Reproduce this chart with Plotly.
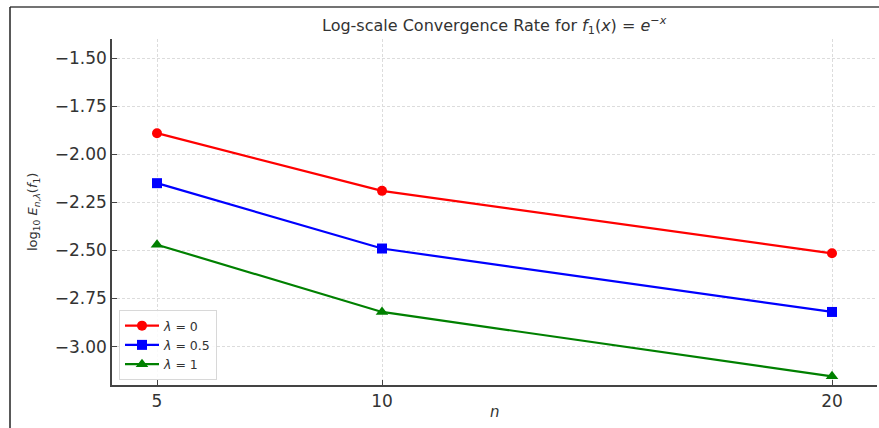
import plotly.graph_objects as go

n_vals = [5, 10, 20]
err_lam0 = [-1.89, -2.19, -2.515]
err_lam05 = [-2.15, -2.49, -2.82]
err_lam1 = [-2.47, -2.82, -3.155]
series_names = ["<i>λ</i> = 0", "<i>λ</i> = 0.5", "<i>λ</i> = 1"]
y_ticks = [-1.50, -1.75, -2.00, -2.25, -2.50, -2.75, -3.00]

W, H = 879, 428
L, R, T, B = 112, 2, 39, 43
pw, ph = W - L - R, H - T - B

def px_x(p):
    return (p - L) / pw

def px_y(p):
    return (H - B - p) / ph

fig = go.Figure()
styles = [("red", "circle"), ("blue", "square"), ("green", "triangle-up")]
for ys, name, (c, sym) in zip([err_lam0, err_lam05, err_lam1], series_names, styles):
    fig.add_trace(go.Scatter(
        x=n_vals, y=ys, name=name, mode="lines+markers",
        line=dict(color=c, width=2.2),
        marker=dict(color=c, symbol=sym, size=10 if sym != "triangle-up" else 11),
    ))

font = "DejaVu Sans, Verdana, sans-serif"
fig.update_layout(
    width=W, height=H,
    margin=dict(l=L, r=R, t=T, b=B),
    paper_bgcolor="white", plot_bgcolor="white",
    font=dict(family=font, color="#333333"),
    showlegend=True,
    legend=dict(x=px_x(119), y=px_y(380), xanchor="left", yanchor="bottom",
                bgcolor="rgba(255,255,255,0.85)", bordercolor="#d8d8d8", borderwidth=1,
                font=dict(size=12.5, family=font, color="#333333"),
                itemwidth=34, tracegroupgap=0),
    xaxis=dict(range=[4, 21], tickvals=n_vals, ticktext=[str(v) for v in n_vals],
               showgrid=True, gridcolor="#dcdcdc", griddash="3px,2px", gridwidth=1,
               showline=True, linecolor="#444444", linewidth=1.5, mirror=False,
               ticks="inside", ticklen=5, tickcolor="#444444",
               tickfont=dict(size=17, family=font, color="#333333"),
               zeroline=False),
    yaxis=dict(range=[-3.2, -1.4], tickvals=y_ticks, tickformat=".2f",
               showgrid=True, gridcolor="#dcdcdc", griddash="3px,2px", gridwidth=1,
               showline=True, linecolor="#444444", linewidth=1.5, mirror=False,
               ticks="inside", ticklen=5, tickcolor="#444444",
               tickfont=dict(size=17, family=font, color="#333333"),
               zeroline=False),
)

fig.add_annotation(text="Log-scale Convergence Rate for <i>f</i><sub>1</sub>(<i>x</i>) = <i>e</i><sup>−<i>x</i></sup>",
                   xref="paper", yref="paper", x=0.5, y=px_y(26), xanchor="center", yanchor="middle",
                   showarrow=False, font=dict(size=16, family=font, color="#333333"))
fig.add_annotation(text="log<sub>10</sub> <i>E</i><sub><i>n</i>,<i>λ</i></sub>(<i>f</i><sub>1</sub>)",
                   xref="paper", yref="paper", x=px_x(33), y=0.5, xanchor="center", yanchor="middle",
                   textangle=-90, showarrow=False, font=dict(size=13, family=font, color="#333333"))
fig.add_annotation(text="<i>n</i>", xref="paper", yref="paper", x=0.5, y=px_y(412),
                   xanchor="center", yanchor="middle", showarrow=False,
                   font=dict(size=15, family=font, color="#333333"))

# outer frame lines (top and left)
fig.add_shape(type="line", xref="paper", yref="paper", x0=px_x(10), x1=px_x(879), y0=px_y(7), y1=px_y(7),
              line=dict(color="#444444", width=1.5))
fig.add_shape(type="line", xref="paper", yref="paper", x0=px_x(10), x1=px_x(10), y0=px_y(7), y1=px_y(428),
              line=dict(color="#222222", width=1.5))

fig.write_html("out.html", config={"displayModeBar": False})
with open("out.html", "r", encoding="utf-8") as f:
    html = f.read()
html = html.replace("<head>", "<head><style>html,body{margin:0;padding:0;overflow:hidden;}</style>", 1)
with open("out.html", "w", encoding="utf-8") as f:
    f.write(html)
